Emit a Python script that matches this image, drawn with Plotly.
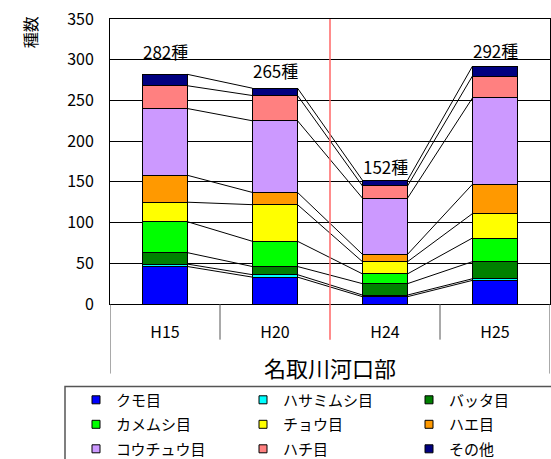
import plotly.graph_objects as go

# Survey years (categories on the x axis)
years = ["H15", "H20", "H24", "H25"]

# Number of species per insect order, stacked bottom to top
order_names = ["クモ目", "ハサミムシ目", "バッタ目", "カメムシ目", "チョウ目",
               "ハエ目", "コウチュウ目", "ハチ目", "その他"]
kumo = [46, 33, 9, 29]
hasamimushi = [3, 3, 2, 2]
batta = [14, 10, 14, 21]
kamemushi = [38, 31, 12, 29]
chou = [24, 45, 15, 30]
hae = [33, 15, 9, 36]
kouchuu = [82, 88, 69, 106]
hachi = [28, 31, 15, 27]
sonota = [14, 9, 7, 12]

site_name = "名取川河口部"
y_title = "種数"
y_ticks = [0, 50, 100, 150, 200, 250, 300, 350]

series = [kumo, hasamimushi, batta, kamemushi, chou, hae, kouchuu, hachi, sonota]
colors = ["#0000FF", "#00FFFF", "#008000", "#00FF00", "#FFFF00",
          "#FF9900", "#CC99FF", "#FF8080", "#000080"]

JP = "Noto Sans CJK JP"
W, H = 551, 459
PLOT_L, PLOT_R, PLOT_T, PLOT_B = 110, 550, 18.8, 304.3
BAR_W = 0.41
TOTAL_LABEL_SHIFT = [8, 3, -1, 1]


def py(pixel_y):
    """Convert a page pixel row to paper y."""
    return (PLOT_B - pixel_y) / (PLOT_B - PLOT_T)


def px(pixel_x):
    """Convert a page pixel column to paper x."""
    return (pixel_x - PLOT_L) / (PLOT_R - PLOT_L)


xpos = list(range(len(years)))
fig = go.Figure()

# stacked bars
for name, vals, col in zip(order_names, series, colors):
    fig.add_trace(go.Bar(
        x=xpos, y=vals, name=name, width=BAR_W,
        marker=dict(color=col, line=dict(color="black", width=1)),
        legendgroup=name, showlegend=False,
    ))

# series lines joining the top of each segment between neighbouring bars
cum = [0] * len(years)
lx, ly = [], []
for vals in series:
    cum = [c + v for c, v in zip(cum, vals)]
    for i in range(len(years) - 1):
        lx += [i + BAR_W / 2, i + 1 - BAR_W / 2, None]
        ly += [cum[i], cum[i + 1], None]
fig.add_trace(go.Scatter(x=lx, y=ly, mode="lines",
                         line=dict(color="black", width=1),
                         showlegend=False, hoverinfo="skip"))

totals = cum

# legend entries: three columns, three rows
columns = [[0, 3, 6], [1, 4, 7], [2, 5, 8]]
legend_ids = ["legend", "legend2", "legend3"]
col_x = [76, 243, 409]
for lid, idxs in zip(legend_ids, columns):
    for k in idxs:
        fig.add_trace(go.Scatter(
            x=[None], y=[None], mode="markers", name=order_names[k],
            legendgroup=order_names[k], legend=lid,
            marker=dict(symbol="square", size=8, color=colors[k],
                        line=dict(color="black", width=1)),
        ))

legend_common = dict(
    font=dict(family=JP, size=15, color="black"),
    bgcolor="rgba(0,0,0,0)", borderwidth=0,
    orientation="v", yanchor="top", xanchor="left",
    tracegroupgap=2, itemwidth=30,
)
layout_legends = {}
for lid, cx in zip(legend_ids, col_x):
    layout_legends[lid] = dict(legend_common, x=px(cx), y=py(384))

annotations = []
for i, t in enumerate(totals):
    annotations.append(dict(
        x=i, y=t, xref="x", yref="y", text=f"{t}種", showarrow=False,
        yanchor="bottom", yshift=TOTAL_LABEL_SHIFT[i],
        font=dict(family=JP, size=17, color="black"),
    ))
annotations.append(dict(
    x=(len(years) - 1) / 2, y=py(367), xref="x", yref="paper", text=site_name,
    showarrow=False, yanchor="middle", font=dict(family=JP, size=22, color="black"),
))
annotations.append(dict(
    x=px(30), y=py(32), xref="paper", yref="paper", text=y_title, showarrow=False,
    textangle=-90, xanchor="center", yanchor="middle",
    font=dict(family=JP, size=16, color="black"),
))

shapes = []
# category separators below the axis
for b in [0.5, 2.5]:
    shapes.append(dict(type="line", xref="x", yref="paper", x0=b, x1=b,
                       y0=0, y1=py(340), line=dict(color="#555555", width=1)))
# outer edges of the category label area
for b in [-0.5, len(years) - 0.5]:
    shapes.append(dict(type="line", xref="x", yref="paper", x0=b, x1=b,
                       y0=0, y1=py(374), line=dict(color="#555555", width=1)))
# red divider between H20 and H24
shapes.append(dict(type="line", xref="x", yref="paper", x0=1.5, x1=1.5,
                   y0=1, y1=py(340), line=dict(color="#FF6666", width=1.5),
                   layer="above"))
# legend frame
shapes.append(dict(type="rect", xref="paper", yref="paper",
                   x0=px(65), x1=px(600), y0=py(387), y1=py(520),
                   line=dict(color="#555555", width=1.5)))

fig.update_layout(
    width=W, height=H,
    margin=dict(l=PLOT_L, r=W - PLOT_R, t=PLOT_T, b=H - PLOT_B, autoexpand=False),
    barmode="stack",
    plot_bgcolor="white", paper_bgcolor="white",
    font=dict(family=JP, size=16, color="black"),
    annotations=annotations, shapes=shapes,
    **layout_legends,
)
fig.update_yaxes(
    range=[0, 350], tickvals=y_ticks, showgrid=True, gridcolor="black", gridwidth=1,
    showline=True, linecolor="black", linewidth=1, mirror=True,
    ticks="", ticklabelstandoff=12, zeroline=False,
    tickfont=dict(family=JP, size=16, color="black"),
)
fig.update_xaxes(
    range=[-0.5, len(years) - 0.5], tickvals=xpos, ticktext=years,
    showgrid=False, showline=True, linecolor="black", linewidth=1, mirror=True,
    ticks="", ticklabelstandoff=14, zeroline=False,
    tickfont=dict(family=JP, size=16, color="black"),
)

fig.write_html("out.html")
